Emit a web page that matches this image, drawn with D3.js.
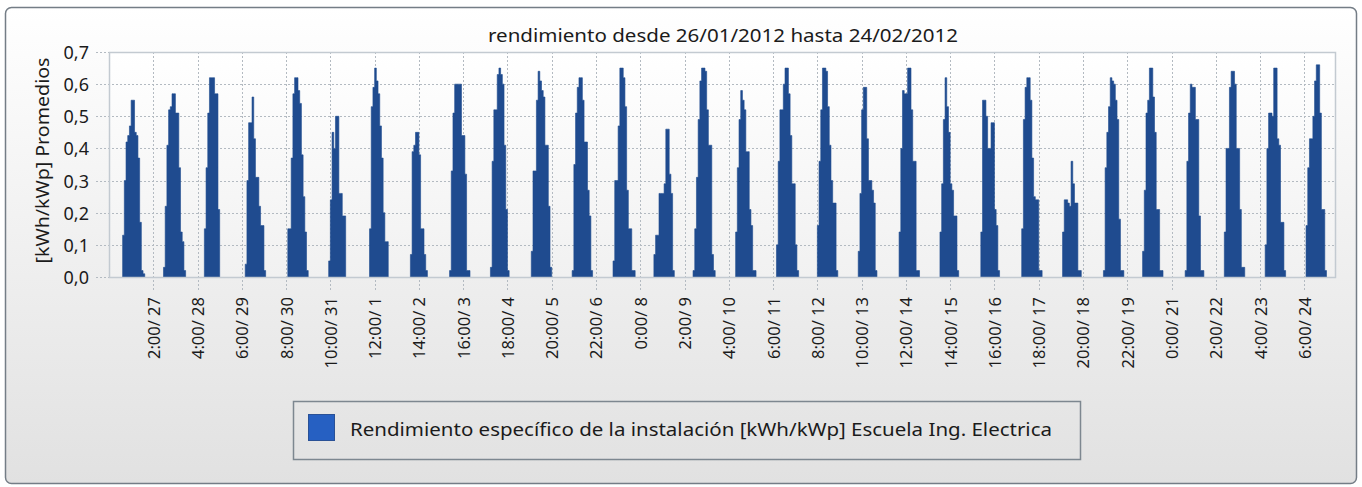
<!DOCTYPE html>
<html>
<head>
<meta charset="utf-8">
<script src="https://cdn.jsdelivr.net/npm/d3@7"></script>
<style>
  body { margin: 0; background: #ffffff; }
  text { font-family: "Noto Sans", sans-serif; fill: #1b1b1b; }
</style>
</head>
<body>
<div id="wrapper"></div>
<script>
// days shown in the chart
const dias = [
  "2012-01-26", "2012-01-27", "2012-01-28", "2012-01-29", "2012-01-30",
  "2012-01-31", "2012-02-01", "2012-02-02", "2012-02-03", "2012-02-04",
  "2012-02-05", "2012-02-06", "2012-02-07", "2012-02-08", "2012-02-09",
  "2012-02-10", "2012-02-11", "2012-02-12", "2012-02-13", "2012-02-14",
  "2012-02-15", "2012-02-16", "2012-02-17", "2012-02-18", "2012-02-19",
  "2012-02-20", "2012-02-21", "2012-02-22", "2012-02-23", "2012-02-24",
];

// first hour with production for each day
const horaInicio = [
  8, 8, 8, 8, 9, 9, 9, 9, 8, 8,
  8, 8, 8, 8, 7, 8, 8, 8, 8, 8,
  8, 8, 8, 8, 8, 7, 8, 7, 7, 7,
];

// hourly yield [kWh/kWp], one row per day
const rendimiento = [
  [0.13, 0.30, 0.42, 0.44, 0.47, 0.55, 0.55, 0.45, 0.44, 0.37, 0.17, 0.02, 0.01],
  [0.03, 0.22, 0.41, 0.52, 0.53, 0.57, 0.57, 0.51, 0.51, 0.34, 0.14, 0.11, 0.02],
  [0.15, 0.34, 0.51, 0.62, 0.62, 0.62, 0.57, 0.57, 0.21],
  [0.04, 0.30, 0.48, 0.48, 0.56, 0.43, 0.31, 0.31, 0.22, 0.16, 0.16, 0.02],
  [0.15, 0.15, 0.37, 0.57, 0.62, 0.62, 0.58, 0.54, 0.38, 0.25, 0.14, 0.02],
  [0.05, 0.24, 0.45, 0.40, 0.50, 0.50, 0.26, 0.26, 0.19, 0.19],
  [0.15, 0.53, 0.59, 0.65, 0.61, 0.57, 0.47, 0.37, 0.20, 0.11, 0.11],
  [0.07, 0.39, 0.41, 0.45, 0.45, 0.38, 0.15, 0.15, 0.07, 0.02],
  [0.02, 0.33, 0.51, 0.60, 0.60, 0.60, 0.60, 0.44, 0.44, 0.32, 0.02, 0.02],
  [0.03, 0.36, 0.52, 0.52, 0.63, 0.65, 0.63, 0.60, 0.41, 0.21, 0.02],
  [0.08, 0.33, 0.33, 0.55, 0.64, 0.61, 0.58, 0.56, 0.41, 0.41, 0.22, 0.03],
  [0.02, 0.35, 0.51, 0.59, 0.62, 0.62, 0.55, 0.42, 0.42, 0.27, 0.19, 0.02],
  [0.05, 0.30, 0.30, 0.47, 0.65, 0.65, 0.62, 0.53, 0.27, 0.15, 0.15, 0.02, 0.02],
  [0.07, 0.13, 0.13, 0.26, 0.26, 0.26, 0.29, 0.46, 0.46, 0.32, 0.26, 0.02],
  [0.02, 0.15, 0.31, 0.49, 0.61, 0.65, 0.65, 0.64, 0.52, 0.41, 0.41, 0.07, 0.02],
  [0.14, 0.34, 0.49, 0.58, 0.55, 0.52, 0.39, 0.39, 0.21, 0.16, 0.02, 0.02],
  [0.10, 0.36, 0.52, 0.52, 0.60, 0.65, 0.65, 0.57, 0.44, 0.29, 0.29, 0.10, 0.02],
  [0.16, 0.36, 0.52, 0.65, 0.65, 0.64, 0.53, 0.41, 0.30, 0.23, 0.23, 0.02],
  [0.08, 0.26, 0.52, 0.59, 0.59, 0.43, 0.30, 0.30, 0.27, 0.23, 0.02],
  [0.14, 0.40, 0.58, 0.57, 0.57, 0.65, 0.65, 0.52, 0.36, 0.36, 0.02, 0.02],
  [0.14, 0.29, 0.49, 0.62, 0.53, 0.45, 0.29, 0.27, 0.19, 0.19, 0.02],
  [0.14, 0.55, 0.55, 0.50, 0.40, 0.40, 0.48, 0.48, 0.21, 0.16, 0.02],
  [0.15, 0.49, 0.59, 0.62, 0.62, 0.55, 0.37, 0.25, 0.24, 0.24, 0.02, 0.02],
  [0.14, 0.24, 0.24, 0.23, 0.22, 0.36, 0.29, 0.23, 0.23, 0.02, 0.02],
  [0.02, 0.34, 0.45, 0.53, 0.62, 0.61, 0.60, 0.55, 0.49, 0.18, 0.02, 0.02],
  [0.08, 0.27, 0.51, 0.55, 0.65, 0.65, 0.56, 0.45, 0.21, 0.21, 0.02, 0.02],
  [0.02, 0.36, 0.51, 0.60, 0.59, 0.59, 0.49, 0.49, 0.19, 0.02, 0.02],
  [0.14, 0.40, 0.40, 0.59, 0.64, 0.64, 0.60, 0.40, 0.40, 0.21, 0.03, 0.03],
  [0.10, 0.40, 0.51, 0.51, 0.50, 0.65, 0.65, 0.43, 0.41, 0.17, 0.17, 0.02],
  [0.16, 0.34, 0.43, 0.43, 0.50, 0.61, 0.66, 0.66, 0.51, 0.21, 0.21, 0.02],
];

const yTicks = [0, 0.1, 0.2, 0.3, 0.4, 0.5, 0.6, 0.7];

const xTicks = [
  "2012-01-27 02:00", "2012-01-28 04:00", "2012-01-29 06:00", "2012-01-30 08:00",
  "2012-01-31 10:00", "2012-02-01 12:00", "2012-02-02 14:00", "2012-02-03 16:00",
  "2012-02-04 18:00", "2012-02-05 20:00", "2012-02-06 22:00", "2012-02-08 00:00",
  "2012-02-09 02:00", "2012-02-10 04:00", "2012-02-11 06:00", "2012-02-12 08:00",
  "2012-02-13 10:00", "2012-02-14 12:00", "2012-02-15 14:00", "2012-02-16 16:00",
  "2012-02-17 18:00", "2012-02-18 20:00", "2012-02-19 22:00", "2012-02-21 00:00",
  "2012-02-22 02:00", "2012-02-23 04:00", "2012-02-24 06:00",
];

const titulo = "rendimiento desde 26/01/2012 hasta 24/02/2012";
const tituloY = "[kWh/kWp] Promedios";
const leyenda = "Rendimiento específico de la instalación [kWh/kWp] Escuela Ing. Electrica";

function drawChart() {
  // 1. Access data
  const parseDay = d3.utcParse("%Y-%m-%d");
  const parseTick = d3.utcParse("%Y-%m-%d %H:%M");

  // one series per day; the step curve needs a closing point one hour after the last bar
  const series = dias.map((dia, i) => {
    const pts = rendimiento[i].map((v, j) => ({
      hora: d3.utcHour.offset(parseDay(dia), horaInicio[i] + j),
      valor: v,
    }));
    const last = pts[pts.length - 1];
    pts.push({ hora: d3.utcHour.offset(last.hora, 1), valor: last.valor });
    return pts;
  });

  const xAccessor = (d) => d.hora;
  const yAccessor = (d) => d.valor;

  // 2. Create chart dimensions
  let dimensions = {
    width: 1362,
    height: 487,
    margin: {
      top: 52,
      right: 27,
      bottom: 210,
      left: 109,
    },
  };
  dimensions.boundedWidth =
    dimensions.width - dimensions.margin.left - dimensions.margin.right;
  dimensions.boundedHeight =
    dimensions.height - dimensions.margin.top - dimensions.margin.bottom;

  // 3. Draw canvas
  const wrapper = d3
    .select("#wrapper")
    .append("svg")
    .attr("width", dimensions.width)
    .attr("height", dimensions.height);

  const defs = wrapper.append("defs");
  const panelGrad = defs
    .append("linearGradient")
    .attr("id", "panel-grad")
    .attr("x1", 0).attr("y1", 0).attr("x2", 0).attr("y2", 1);
  panelGrad.append("stop").attr("offset", "0%").attr("stop-color", "#ffffff");
  panelGrad.append("stop").attr("offset", "100%").attr("stop-color", "#e1e1e1");

  const plotGrad = defs
    .append("linearGradient")
    .attr("id", "plot-grad")
    .attr("x1", 0).attr("y1", 0).attr("x2", 0).attr("y2", 1);
  plotGrad.append("stop").attr("offset", "0%").attr("stop-color", "#ffffff");
  plotGrad.append("stop").attr("offset", "100%").attr("stop-color", "#f1f1f1");

  // outer panel
  wrapper
    .append("rect")
    .attr("x", 5.5)
    .attr("y", 7.5)
    .attr("width", 1351)
    .attr("height", 476)
    .attr("rx", 6)
    .attr("fill", "url(#panel-grad)")
    .attr("stroke", "#747d86")
    .attr("stroke-width", 1.5);

  const bounds = wrapper
    .append("g")
    .style(
      "transform",
      `translate(${dimensions.margin.left}px, ${dimensions.margin.top}px)`
    );

  // 4. Create scales
  const xScale = d3
    .scaleUtc()
    .domain([parseDay(dias[0]), d3.utcDay.offset(parseDay(dias[dias.length - 1]), 1)])
    .range([0, dimensions.boundedWidth]);

  const yScale = d3
    .scaleLinear()
    .domain([0, 0.7])
    .range([dimensions.boundedHeight, 0]);

  const locale = d3.formatLocale({
    decimal: ",",
    thousands: ".",
    grouping: [3],
    currency: ["", " €"],
  });
  const yFormat = locale.format(".1f");
  const xFormat = d3.utcFormat("%-H:%M/ %-d");
  const tickDates = xTicks.map(parseTick);

  // plot background
  bounds
    .append("rect")
    .attr("width", dimensions.boundedWidth)
    .attr("height", dimensions.boundedHeight)
    .attr("fill", "url(#plot-grad)");

  // grid
  const grid = bounds.append("g").attr("class", "grid");
  grid
    .selectAll(".h-grid")
    .data(yTicks.slice(1, -1))
    .join("line")
    .attr("class", "h-grid")
    .attr("x1", -13)
    .attr("x2", dimensions.boundedWidth)
    .attr("y1", (d) => Math.round(yScale(d)) + 0.5)
    .attr("y2", (d) => Math.round(yScale(d)) + 0.5)
    .attr("stroke", "#b3bac1")
    .attr("stroke-dasharray", "2,2");
  grid
    .selectAll(".h-tick")
    .data([yTicks[0], yTicks[yTicks.length - 1]])
    .join("line")
    .attr("class", "h-tick")
    .attr("x1", -13)
    .attr("x2", 0)
    .attr("y1", (d) => Math.round(yScale(d)) + 0.5)
    .attr("y2", (d) => Math.round(yScale(d)) + 0.5)
    .attr("stroke", "#b3bac1")
    .attr("stroke-dasharray", "2,2");
  grid
    .selectAll(".v-grid")
    .data(tickDates)
    .join("line")
    .attr("class", "v-grid")
    .attr("x1", (d) => Math.round(xScale(d)) + 0.5)
    .attr("x2", (d) => Math.round(xScale(d)) + 0.5)
    .attr("y1", 0)
    .attr("y2", dimensions.boundedHeight + 13)
    .attr("stroke", "#b3bac1")
    .attr("stroke-dasharray", "2,2");

  // 5. Draw data
  const areaGenerator = d3
    .area()
    .curve(d3.curveStepAfter)
    .x((d) => xScale(xAccessor(d)))
    .y0(dimensions.boundedHeight)
    .y1((d) => yScale(yAccessor(d)));

  bounds
    .append("g")
    .selectAll("path")
    .data(series)
    .join("path")
    .attr("d", areaGenerator)
    .attr("fill", "#1f4b8f")
    .attr("stroke", "#1f4b8f")
    .attr("stroke-width", 0.6);

  // plot border
  bounds
    .append("rect")
    .attr("x", 0.5)
    .attr("y", 0.5)
    .attr("width", dimensions.boundedWidth)
    .attr("height", dimensions.boundedHeight)
    .attr("fill", "none")
    .attr("stroke", "#c3cad1")
    .attr("stroke-width", 1.5);

  // 6. Draw peripherals
  const yAxis = bounds
    .append("g")
    .call(d3.axisLeft(yScale).tickValues(yTicks).tickFormat(yFormat).tickSize(0))
    .call((g) => g.select(".domain").remove());
  yAxis
    .selectAll("text")
    .attr("x", -20)
    .attr("dy", "0.36em")
    .style("font-size", "18px");

  const xAxis = bounds
    .append("g")
    .call(d3.axisBottom(xScale).tickValues(tickDates).tickFormat(xFormat).tickSize(0))
    .call((g) => g.select(".domain").remove());
  xAxis
    .selectAll("text")
    .attr("x", 0)
    .attr("y", 0)
    .attr("dy", "0.36em")
    .attr("text-anchor", "end")
    .attr("transform", `translate(0, ${dimensions.boundedHeight + 20}) rotate(-90)`)
    .style("font-size", "16.5px");

  const yTitleY = dimensions.margin.top + dimensions.boundedHeight / 2 - 4;
  wrapper
    .append("text")
    .attr("x", 43)
    .attr("y", yTitleY)
    .attr("dy", "0.36em")
    .attr("text-anchor", "middle")
    .attr("transform", `rotate(-90, 43, ${yTitleY})`)
    .attr("textLength", 206)
    .attr("lengthAdjust", "spacingAndGlyphs")
    .style("font-size", "18px")
    .text(tituloY);

  wrapper
    .append("text")
    .attr("x", 488)
    .attr("y", 42)
    .attr("textLength", 470)
    .attr("lengthAdjust", "spacingAndGlyphs")
    .style("font-size", "17.5px")
    .text(titulo);

  // legend
  const legend = wrapper.append("g");
  legend
    .append("rect")
    .attr("x", 293.5)
    .attr("y", 401.5)
    .attr("width", 787)
    .attr("height", 58)
    .attr("fill", "none")
    .attr("stroke", "#7d8790")
    .attr("stroke-width", 1.5);
  legend
    .append("rect")
    .attr("x", 308.5)
    .attr("y", 414.5)
    .attr("width", 26)
    .attr("height", 26)
    .attr("fill", "#2660c2")
    .attr("stroke", "#2a5196");
  legend
    .append("text")
    .attr("x", 350)
    .attr("y", 436)
    .attr("textLength", 702)
    .attr("lengthAdjust", "spacingAndGlyphs")
    .style("font-size", "17.5px")
    .text(leyenda);
}
drawChart();
</script>
</body>
</html>
